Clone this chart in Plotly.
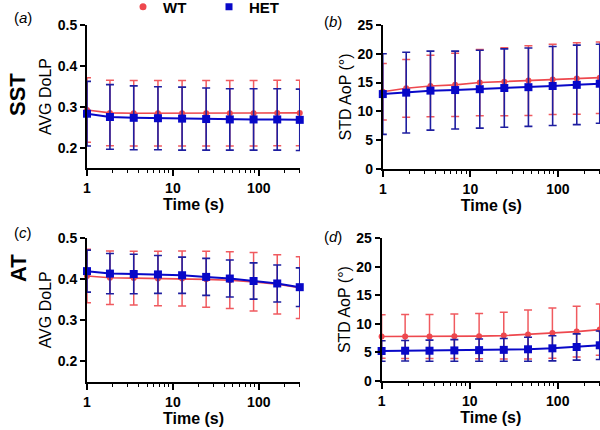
import plotly.graph_objects as go
import numpy as np

# time points (s)
time_s = [1, 1.85, 3.5, 6.7, 12.8, 24.4, 46, 87, 164, 300]

# (a) SST - AVG DoLP
sst_dolp_wt = [0.292, 0.285, 0.284, 0.284, 0.284, 0.284, 0.284, 0.284, 0.285, 0.285]
sst_dolp_wt_err = [0.079, 0.080, 0.080, 0.080, 0.080, 0.080, 0.080, 0.080, 0.080, 0.080]
sst_dolp_het = [0.283, 0.275, 0.273, 0.272, 0.271, 0.270, 0.269, 0.269, 0.269, 0.268]
sst_dolp_het_err = [0.079, 0.079, 0.078, 0.077, 0.077, 0.076, 0.075, 0.075, 0.075, 0.075]

# (b) SST - STD AoP
sst_aop_wt = [13.4, 14.0, 14.4, 14.6, 15.0, 15.15, 15.35, 15.55, 15.7, 15.85]
sst_aop_wt_err = [4.9, 5.0, 5.35, 5.5, 5.75, 5.9, 6.05, 6.1, 6.2, 6.2]
sst_aop_het = [13.0, 13.25, 13.6, 13.7, 13.85, 14.05, 14.2, 14.4, 14.6, 14.8]
sst_aop_het_err = [7.0, 7.0, 6.85, 6.75, 6.75, 6.8, 6.8, 6.85, 6.9, 6.85]

# (c) AT - AVG DoLP
at_dolp_wt = [0.407, 0.403, 0.402, 0.401, 0.401, 0.399, 0.397, 0.393, 0.387, 0.379]
at_dolp_wt_err = [0.065, 0.065, 0.065, 0.066, 0.067, 0.068, 0.069, 0.071, 0.072, 0.075]
at_dolp_het = [0.419, 0.413, 0.412, 0.411, 0.409, 0.405, 0.401, 0.395, 0.389, 0.380]
at_dolp_het_err = [0.051, 0.049, 0.048, 0.046, 0.044, 0.045, 0.045, 0.044, 0.045, 0.047]

# (d) AT - STD AoP
at_aop_wt = [7.8, 7.8, 7.8, 7.85, 7.85, 7.95, 8.15, 8.4, 8.65, 9.0]
at_aop_wt_err = [3.8, 3.85, 3.85, 3.9, 3.95, 4.1, 4.3, 4.4, 4.45, 4.5]
at_aop_het = [5.25, 5.3, 5.3, 5.35, 5.4, 5.45, 5.55, 5.72, 5.95, 6.25]
at_aop_het_err = [1.8, 1.8, 1.85, 1.9, 1.95, 2.0, 2.1, 2.2, 2.3, 2.5]

WT_COLOR = "rgb(238,72,78)"
WT_ERR = "rgb(240,90,95)"
HET_COLOR = "rgb(8,8,200)"
HET_ERR = "rgb(30,30,160)"
FONT = "Liberation Sans, Arial, sans-serif"

fig = go.Figure()

panels = [
    ("x", "y", sst_dolp_wt, sst_dolp_wt_err, sst_dolp_het, sst_dolp_het_err),
    ("x2", "y2", sst_aop_wt, sst_aop_wt_err, sst_aop_het, sst_aop_het_err),
    ("x3", "y3", at_dolp_wt, at_dolp_wt_err, at_dolp_het, at_dolp_het_err),
    ("x4", "y4", at_aop_wt, at_aop_wt_err, at_aop_het, at_aop_het_err),
]

for xa, ya, wt, wt_err, het, het_err in panels:
    fig.add_trace(go.Scatter(
        x=time_s, y=wt, xaxis=xa, yaxis=ya,
        mode="lines+markers",
        line=dict(color=WT_COLOR, width=1.6),
        marker=dict(color=WT_COLOR, size=6, symbol="circle"),
        error_y=dict(type="data", array=wt_err, color=WT_ERR, thickness=1.5, width=4),
        showlegend=False, cliponaxis=False,
    ))
    fig.add_trace(go.Scatter(
        x=time_s, y=het, xaxis=xa, yaxis=ya,
        mode="lines+markers",
        line=dict(color=HET_COLOR, width=2),
        marker=dict(color=HET_COLOR, size=8, symbol="square"),
        error_y=dict(type="data", array=het_err, color=HET_ERR, thickness=1.6, width=4),
        showlegend=False, cliponaxis=False,
    ))

# legend-only entries (marker without line)
fig.add_trace(go.Scatter(x=[None], y=[None], mode="markers", name="WT",
                         marker=dict(color=WT_COLOR, size=7, symbol="circle")))
fig.add_trace(go.Scatter(x=[None], y=[None], mode="markers", name="HET",
                         marker=dict(color=HET_COLOR, size=7, symbol="square")))

tickfont = dict(family=FONT, size=14, color="black", weight="bold")

def make_xaxis(domain, anchor):
    return dict(
        domain=domain, anchor=anchor, type="log", automargin=False,
        range=[0, np.log10(302)],
        tickvals=[1, 10, 100], ticktext=["1", "10", "100"],
        ticks="outside", ticklen=6, tickwidth=2, tickcolor="black",
        minor=dict(ticks="outside", ticklen=3, tickwidth=1.2, tickcolor="black",
                   tickvals=[v * m for v in (1, 10, 100) for m in range(2, 10) if v * m < 302]),
        showline=True, linecolor="black", linewidth=2, showgrid=False, zeroline=False,
        tickfont=tickfont,
        title=dict(text="Time (s)", font=dict(family=FONT, size=16, color="black", weight="bold"),
                   standoff=4),
    )

def make_yaxis(domain, anchor, rng, dtick, fmt, title):
    return dict(
        domain=domain, anchor=anchor, range=rng, tick0=0, dtick=dtick, tickformat=fmt,
        automargin=False,
        ticks="outside", ticklen=5, tickwidth=2, tickcolor="black",
        showline=True, linecolor="black", linewidth=2, showgrid=False, zeroline=False,
        tickfont=tickfont,
        title=dict(text=title, font=dict(family=FONT, size=16, color="black"), standoff=2),
    )

fig.update_layout(
    width=600, height=430,
    paper_bgcolor="white", plot_bgcolor="white",
    margin=dict(l=0, r=0, t=0, b=0, autoexpand=False),
    font=dict(family=FONT, color="black"),
    xaxis=make_xaxis([0.145, 0.5], "y"),
    yaxis=make_yaxis([0.609, 0.942], "x", [0.15, 0.5], 0.1, ".1f", "AVG DoLP"),
    xaxis2=make_xaxis([0.638, 1.0], "y2"),
    yaxis2=make_yaxis([0.607, 0.942], "x2", [0, 25], 5, "d", "STD AoP (°)"),
    xaxis3=make_xaxis([0.145, 0.5], "y3"),
    yaxis3=make_yaxis([0.112, 0.447], "x3", [0.15, 0.5], 0.1, ".1f", "AVG DoLP"),
    xaxis4=make_xaxis([0.636, 1.0], "y4"),
    yaxis4=make_yaxis([0.114, 0.446], "x4", [0, 25], 5, "d", "STD AoP (°)"),
    legend=dict(orientation="h", x=0.205, y=1.022, xanchor="left", yanchor="top",
                font=dict(family=FONT, size=15, color="black", weight="bold"),
                itemwidth=30, entrywidth=41, bgcolor="rgba(0,0,0,0)"),
)

annotations = [
    dict(text="SST", x=18 / 600, y=1 - 95 / 430, textangle=-90,
         font=dict(family=FONT, size=22, color="black", weight="bold")),
    dict(text="AT", x=18 / 600, y=1 - 268 / 430, textangle=-90,
         font=dict(family=FONT, size=22, color="black", weight="bold")),
    dict(text="(<i>a</i>)", x=23 / 600, y=1 - 18 / 430),
    dict(text="(<i>b</i>)", x=333 / 600, y=1 - 22 / 430),
    dict(text="(<i>c</i>)", x=23 / 600, y=1 - 232 / 430),
    dict(text="(<i>d</i>)", x=333 / 600, y=1 - 236 / 430),
]
for a in annotations:
    a.setdefault("font", dict(family=FONT, size=15, color="black"))
    fig.add_annotation(xref="paper", yref="paper", showarrow=False,
                       xanchor="center", yanchor="middle", **a)

# page body has a default 8px margin; drop it so the figure fills the window
fig.write_html("out.html", config={"displayModeBar": False},
               post_script="document.body.style.margin='0';")
